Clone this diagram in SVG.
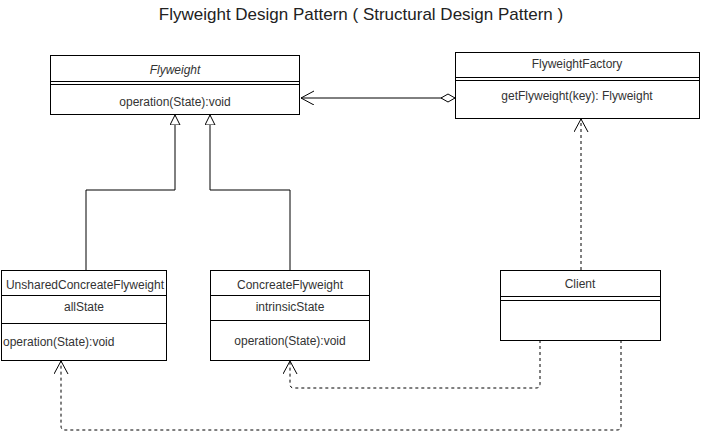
<svg xmlns="http://www.w3.org/2000/svg" width="706" height="445" viewBox="0 0 706 445">
<style>
.box{fill:#fff;stroke:#000;stroke-width:1}
.ln{stroke:#000;stroke-width:1;fill:none}
.t{font-family:"Liberation Sans",Arial,sans-serif;font-size:12px;fill:#333;text-anchor:middle}
.title{font-family:"Liberation Sans",Arial,sans-serif;font-size:17px;fill:#222;text-anchor:middle}
.dash{stroke:#000;stroke-width:1;fill:none;stroke-dasharray:3,3}
</style>
<defs>
<marker id="tri" markerWidth="12" markerHeight="12" refX="10" refY="5" orient="auto" markerUnits="userSpaceOnUse" viewBox="0 0 12 12">
<path d="M0,0 L10,5 L0,10 Z" fill="#fff" stroke="#000" stroke-width="1"/>
</marker>
<marker id="open" markerWidth="16" markerHeight="16" refX="13" refY="7" orient="auto" markerUnits="userSpaceOnUse" viewBox="0 0 16 16">
<path d="M0,0 L13,7 L0,14" fill="none" stroke="#000" stroke-width="1"/>
</marker>
<marker id="dia" markerWidth="18" markerHeight="12" refX="1" refY="5" orient="auto" markerUnits="userSpaceOnUse" viewBox="0 0 18 12">
<path d="M1,5 L8,1 L15,5 L8,9 Z" fill="#fff" stroke="#000" stroke-width="1"/>
</marker>
</defs>
<rect width="706" height="445" fill="#fff"/>
<text class="title" x="361" y="20">Flyweight Design Pattern ( Structural Design Pattern )</text>

<g id="connectors">
<path class="ln" d="M86,270 L86,190 L175,190 L175,115" marker-end="url(#tri)"/>
<path class="ln" d="M290,270 L290,190 L210,190 L210,115" marker-end="url(#tri)"/>
<path class="ln" d="M455,98 L301,98" marker-start="url(#dia)" marker-end="url(#open)"/>
<path class="dash" d="M581,270 L581,119" marker-end="url(#open)"/>
<path class="dash" d="M540,340 L540,384 Q540,388 536,388 L294,388 Q290,388 290,384 L290,361" marker-end="url(#open)"/>
<path class="dash" d="M621,340 L621,426 Q621,430 617,430 L65,430 Q61,430 61,426 L61,361" marker-end="url(#open)"/>
</g>

<g id="Flyweight">
<rect class="box" x="50.5" y="55.5" width="249" height="59"/>
<line class="ln" x1="50.5" y1="81.5" x2="299.5" y2="81.5"/>
<line class="ln" x1="50.5" y1="84.5" x2="299.5" y2="84.5"/>
<text class="t" x="175" y="74" font-style="italic">Flyweight</text>
<text class="t" x="175" y="106">operation(State):void</text>
</g>

<g id="FlyweightFactory">
<rect class="box" x="455.5" y="52.5" width="244" height="66"/>
<line class="ln" x1="455.5" y1="77.5" x2="699.5" y2="77.5"/>
<line class="ln" x1="455.5" y1="80.5" x2="699.5" y2="80.5"/>
<text class="t" x="577" y="68">FlyweightFactory</text>
<text class="t" x="577" y="100">getFlyweight(key): Flyweight</text>
</g>

<g id="UnsharedConcreateFlyweight">
<rect class="box" x="1.5" y="270.5" width="165" height="90"/>
<line class="ln" x1="1.5" y1="295.5" x2="166.5" y2="295.5"/>
<line class="ln" x1="1.5" y1="323.5" x2="166.5" y2="323.5"/>
<text class="t" x="85" y="289">UnsharedConcreateFlyweight</text>
<text class="t" x="84" y="311">allState</text>
<text class="t" x="3" y="346" style="text-anchor:start">operation(State):void</text>
</g>

<g id="ConcreateFlyweight">
<rect class="box" x="210.5" y="270.5" width="159" height="90"/>
<line class="ln" x1="210.5" y1="295.5" x2="369.5" y2="295.5"/>
<line class="ln" x1="210.5" y1="320.5" x2="369.5" y2="320.5"/>
<text class="t" x="290" y="289">ConcreateFlyweight</text>
<text class="t" x="290" y="311">intrinsicState</text>
<text class="t" x="290" y="345">operation(State):void</text>
</g>

<g id="Client">
<rect class="box" x="500.5" y="270.5" width="160" height="70"/>
<line class="ln" x1="500.5" y1="296.5" x2="660.5" y2="296.5"/>
<line class="ln" x1="500.5" y1="300.5" x2="660.5" y2="300.5"/>
<text class="t" x="580" y="288">Client</text>
</g>
</svg>
